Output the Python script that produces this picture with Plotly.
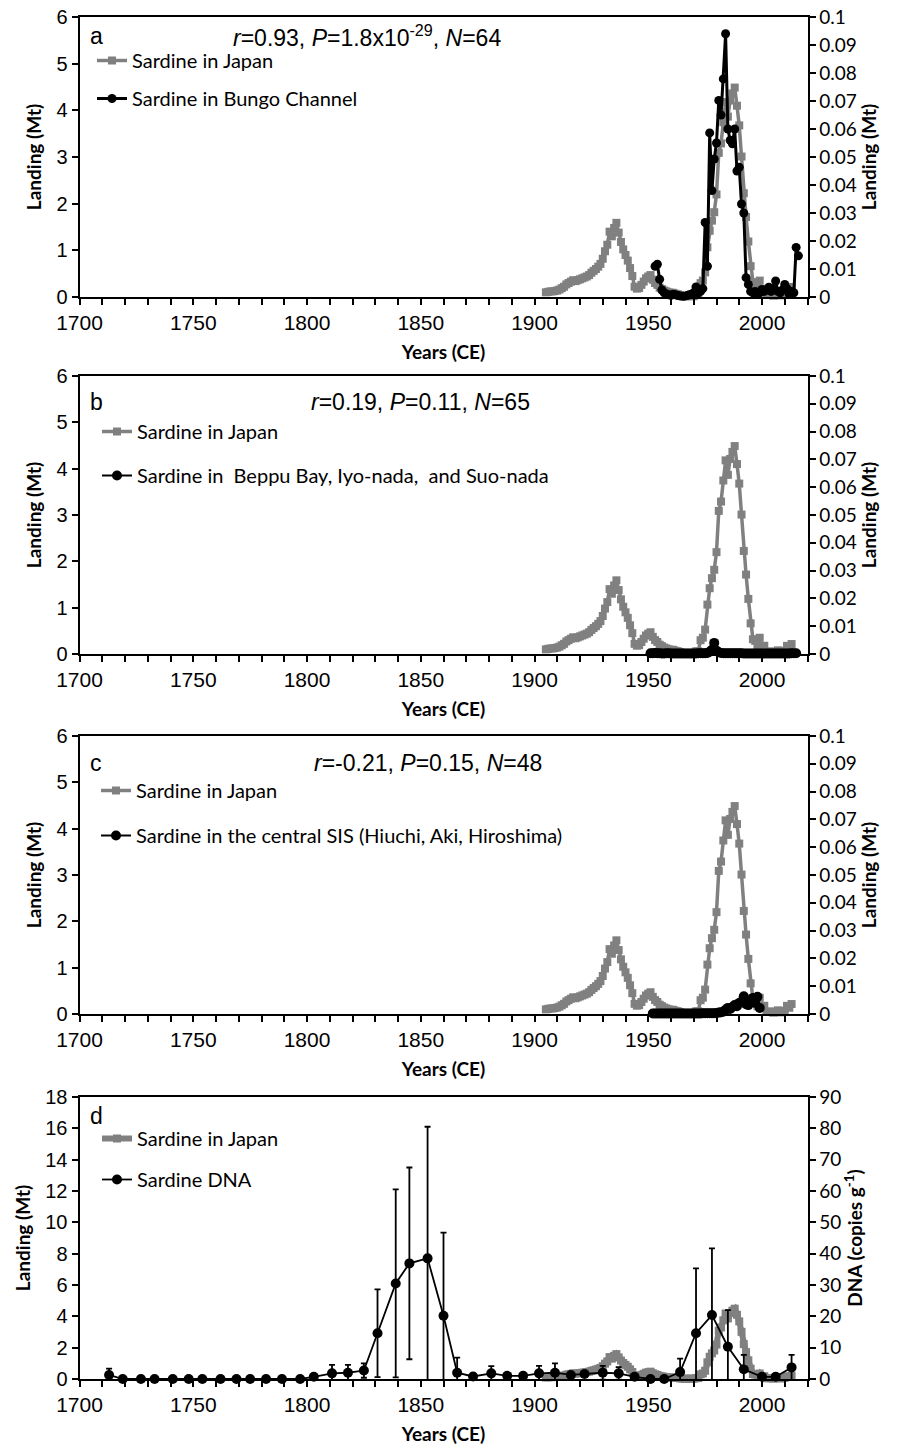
import plotly.graph_objects as go

# ---------------- data ----------------
# Sardine landings in Japan (Mt), 1905-2013
japan_years = list(range(1905, 2014))
japan_landing = [
    0.10, 0.11, 0.12, 0.12, 0.13, 0.14, 0.16, 0.19, 0.22, 0.27,   # 1905-1914
    0.30, 0.33, 0.36, 0.34, 0.36, 0.38, 0.40, 0.42, 0.44, 0.47,   # 1915-1924
    0.52, 0.56, 0.60, 0.65, 0.71, 0.82, 0.98, 1.12, 1.40, 1.30,   # 1925-1934
    1.48, 1.59, 1.38, 1.18, 1.02, 0.90, 0.78, 0.62, 0.45, 0.22,   # 1935-1944
    0.18, 0.19, 0.26, 0.33, 0.40, 0.44, 0.47, 0.37, 0.30, 0.26,   # 1945-1954
    0.20, 0.17, 0.14, 0.12, 0.10, 0.09, 0.09, 0.07, 0.06, 0.04,   # 1955-1964
    0.02, 0.015, 0.017, 0.023, 0.017, 0.017, 0.057, 0.058, 0.297, 0.352,  # 1965-1974
    0.526, 1.066, 1.420, 1.637, 1.817, 2.198, 3.089, 3.290, 3.745, 4.179,  # 1975-1984
    3.866, 4.210, 4.362, 4.488, 4.099, 3.678, 3.010, 2.224, 1.714, 1.189,  # 1985-1994
    0.661, 0.319, 0.284, 0.167, 0.351, 0.150, 0.178, 0.050, 0.052, 0.050,  # 1995-2004
    0.028, 0.053, 0.079, 0.035, 0.057, 0.070, 0.176, 0.135, 0.215,         # 2005-2013
]

# Bungo Channel (Mt), 1953-2016
bungo_years = list(range(1953, 2017))
bungo_landing = [
    0.0110, 0.0117, 0.0063, 0.0025, 0.0015, 0.0010, 0.0008, 0.0006, 0.0010, 0.0008,  # 1953-1962
    0.0005, 0.0004, 0.0003, 0.0003, 0.0005, 0.0008, 0.0010, 0.0015, 0.0036, 0.0015,  # 1963-1972
    0.0020, 0.0030, 0.0266, 0.0110, 0.0586, 0.0380, 0.0493, 0.0550, 0.0702, 0.0650,  # 1973-1982
    0.0779, 0.0940, 0.0600, 0.0560, 0.0547, 0.0600, 0.0450, 0.0463, 0.0332, 0.0300,  # 1983-1992
    0.0069, 0.0045, 0.0020, 0.0015, 0.0020, 0.0010, 0.0015, 0.0027, 0.0020, 0.0025,  # 1993-2002
    0.0035, 0.0020, 0.0030, 0.0057, 0.0020, 0.0015, 0.0025, 0.0045, 0.0030, 0.0010,  # 2003-2012
    0.0020, 0.0015, 0.0177, 0.0147,                                                  # 2013-2016
]

# Beppu Bay, Iyo-nada and Suo-nada (Mt), 1951-2015
beppu_years = list(range(1951, 2016))
beppu_landing = [
    0.0003, 0.0003, 0.0004, 0.0003, 0.0003, 0.0002, 0.0002, 0.0003, 0.0003, 0.0002,  # 1951-1960
    0.0002, 0.0002, 0.0002, 0.0002, 0.0002, 0.0002, 0.0002, 0.0002, 0.0002, 0.0002,  # 1961-1970
    0.0002, 0.0003, 0.0003, 0.0003, 0.0003, 0.0004, 0.0008, 0.0015, 0.0040, 0.0012,  # 1971-1980
    0.0006, 0.0004, 0.0003, 0.0003, 0.0003, 0.0003, 0.0003, 0.0003, 0.0003, 0.0003,  # 1981-1990
    0.0003, 0.0002, 0.0002, 0.0002, 0.0002, 0.0002, 0.0002, 0.0002, 0.0002, 0.0002,  # 1991-2000
    0.0002, 0.0002, 0.0002, 0.0002, 0.0002, 0.0002, 0.0002, 0.0002, 0.0002, 0.0002,  # 2001-2010
    0.0002, 0.0002, 0.0003, 0.0003, 0.0003,                                          # 2011-2015
]

# Central Seto Inland Sea (Hiuchi, Aki, Hiroshima) (Mt), 1952-1999
central_years = list(range(1952, 2000))
central_landing = [
    0.0002, 0.0002, 0.0002, 0.0002, 0.0002, 0.0002, 0.0002, 0.0002,                  # 1952-1959
    0.0002, 0.0002, 0.0002, 0.0002, 0.0002, 0.0002, 0.0002, 0.0002, 0.0002, 0.0002,  # 1960-1969
    0.0002, 0.0002, 0.0002, 0.0002, 0.0003, 0.0003, 0.0003, 0.0003, 0.0003, 0.0003,  # 1970-1979
    0.0004, 0.0005, 0.0006, 0.0008, 0.0015, 0.0022, 0.0018, 0.0025, 0.0032, 0.0028,  # 1980-1989
    0.0040, 0.0045, 0.0064, 0.0035, 0.0032, 0.0044, 0.0058, 0.0040, 0.0062, 0.0022,  # 1990-1999
]

# Sardine DNA in sediment (copies g-1) with standard deviation
dna_years = [1713, 1719, 1727, 1733, 1741, 1748, 1754, 1762, 1769, 1775, 1782,
             1789, 1797, 1803, 1811, 1818, 1825, 1831, 1839, 1845, 1853, 1860,
             1866, 1873, 1881, 1888, 1895, 1902, 1909, 1916, 1922, 1930, 1937,
             1944, 1951, 1957, 1964, 1971, 1978, 1985, 1992, 2000, 2006, 2013]
dna_copies = [1.3, 0, 0, 0, 0, 0, 0, 0, 0, 0, 0,
              0, 0, 0.7, 1.8, 2.0, 2.7, 14.6, 30.5, 36.9, 38.5, 20.2,
              2.0, 0.8, 1.8, 1.0, 1.0, 1.8, 2.0, 1.3, 1.6, 2.0, 1.8,
              0.7, 0, 0, 2.2, 14.6, 20.4, 10.3, 3.1, 0.7, 0.7, 3.7]
dna_sd = [2.0, 0, 0, 0, 0, 0, 0, 0, 0, 0, 0,
          0, 0, 0, 2.7, 2.5, 2.3, 14.0, 30.0, 30.6, 42.0, 26.5,
          4.8, 0, 2.3, 0, 0, 2.4, 3.0, 0, 0, 2.2, 2.0,
          0, 0, 0, 4.3, 20.7, 21.3, 11.7, 4.6, 0, 0, 4.0]

# tick labels
year_ticks = [1700, 1750, 1800, 1850, 1900, 1950, 2000]
year_labels = ["1700", "1750", "1800", "1850", "1900", "1950", "2000"]
small_ticks = [0, 0.01, 0.02, 0.03, 0.04, 0.05, 0.06, 0.07, 0.08, 0.09, 0.1]
small_labels = ["0", "0.01", "0.02", "0.03", "0.04", "0.05", "0.06", "0.07", "0.08", "0.09", "0.1"]

panel_letters = ["a", "b", "c", "d"]
panel_stats = [
    "<i>r</i>=0.93, <i>P</i>=1.8x10<sup>-29</sup>, <i>N</i>=64",
    "<i>r</i>=0.19, <i>P</i>=0.11, <i>N</i>=65",
    "<i>r</i>=-0.21, <i>P</i>=0.15, <i>N</i>=48",
]
japan_name = "Sardine in Japan"
local_names = [
    "Sardine in Bungo Channel",
    "Sardine in  Beppu Bay, Iyo-nada,  and Suo-nada",
    "Sardine in the central SIS (Hiuchi, Aki, Hiroshima)",
]

# ---------------- layout helpers ----------------
W, H = 898, 1446
ARIAL = "Liberation Sans, Arial, sans-serif"
CAL = "Lato, Carlito, Calibri, sans-serif"
GRAY = "#808080"


def fx(px):
    return px / W


def fy(py):
    return 1 - py / H


X_LEFT, X_RIGHT = 79.5, 807.5
panels_px = [(17, 297), (376, 654), (736, 1014), (1097, 1379)]   # (top, bottom)

# per-panel placement of the letter / statistics / legend (pixels from panel top)
letter_dy = [19, 26, 27, 19]
stats_x = [233, 311, 314]
legend_x = [92, 97, 96, 97]
legend_dy = [24, 36, 35, 22]
legend_gap = [9, 15, 16, 12]

fig = go.Figure()

layout = dict(
    width=W, height=H,
    margin=dict(l=0, r=0, t=0, b=0, autoexpand=False),
    paper_bgcolor="white", plot_bgcolor="white",
    showlegend=True,
    font=dict(family=ARIAL, color="black"),
)

annotations = []

for i, (top, bottom) in enumerate(panels_px):
    n = i + 1
    xs = "" if n == 1 else str(n)
    xa = "x" + xs
    ya_l = "y" + ("" if n == 1 else str(2 * n - 1))
    ya_r = "y" + str(2 * n)
    leg = "legend" + ("" if n == 1 else str(n))

    layout["xaxis" + xs] = dict(
        domain=[fx(X_LEFT), fx(X_RIGHT)], anchor=ya_l, automargin=False,
        range=[1700, 2020], tickvals=year_ticks, ticktext=year_labels,
        ticks="outside", ticklen=6, tickwidth=2, tickcolor="black",
        minor=dict(dtick=10, tick0=1700, ticks="outside", ticklen=6,
                   tickwidth=2, tickcolor="black"),
        showline=True, linecolor="black", linewidth=2, mirror=True,
        showgrid=False, zeroline=False,
        tickfont=dict(family=ARIAL, size=21, color="black"),
        title=dict(text="Years (CE)", standoff=12,
                   font=dict(family=CAL, size=19, color="black", weight="bold")),
    )

    if n < 4:
        left_range, left_dtick = [0, 6], 1
        right_cfg = dict(range=[0, 0.1], tickvals=small_ticks, ticktext=small_labels)
        right_title = "Landing (Mt)"
    else:
        left_range, left_dtick = [0, 18], 2
        right_cfg = dict(range=[0, 90], dtick=10, tick0=0)
        right_title = "DNA (copies g<sup>-1</sup>)"

    layout["yaxis" + ("" if n == 1 else str(2 * n - 1))] = dict(
        domain=[fy(bottom), fy(top)], anchor=xa, automargin=False,
        range=left_range, dtick=left_dtick, tick0=0,
        ticks="outside", ticklen=6, tickwidth=2, tickcolor="black",
        showline=True, linecolor="black", linewidth=2,
        showgrid=False, zeroline=False,
        tickfont=dict(family=ARIAL, size=20, color="black"),
        title=dict(text="Landing (Mt)", standoff=10,
                   font=dict(family=CAL, size=19, color="black", weight="bold")),
    )
    layout["yaxis" + str(2 * n)] = dict(
        anchor=xa, overlaying=ya_l, side="right", automargin=False,
        ticks="outside", ticklen=6, tickwidth=2, tickcolor="black",
        showline=True, linecolor="black", linewidth=2,
        showgrid=False, zeroline=False,
        tickfont=dict(family=CAL, size=19, color="black"),
        title=dict(text=right_title, standoff=4,
                   font=dict(family=CAL, size=19, color="black", weight="bold")),
        **right_cfg,
    )

    # legend for this panel
    layout[leg] = dict(
        x=fx(legend_x[i]), y=fy(top + legend_dy[i]), xanchor="left", yanchor="top",
        bgcolor="rgba(0,0,0,0)", borderwidth=0,
        font=dict(family=CAL, size=20, color="black"),
        tracegroupgap=legend_gap[i], itemwidth=30,
    )

    # panel letter
    annotations.append(dict(
        text=panel_letters[i], x=fx(88), y=fy(top + letter_dy[i]), xref="paper", yref="paper",
        xanchor="left", yanchor="middle", showarrow=False,
        font=dict(family=ARIAL, size=23, color="black"),
    ))
    if n < 4:
        annotations.append(dict(
            text=panel_stats[i], x=fx(stats_x[i] - 2), y=fy(top + letter_dy[i]),
            xref="paper", yref="paper",
            xanchor="left", yanchor="middle", showarrow=False,
            font=dict(family=ARIAL, size=23, color="black"),
        ))

    # Sardine in Japan (left axis)
    japan_line_w = 3.5 if n < 4 else 6
    fig.add_trace(go.Scatter(
        x=japan_years, y=japan_landing, name=japan_name, mode="lines+markers",
        line=dict(color=GRAY, width=japan_line_w),
        marker=dict(symbol="square", size=8, color=GRAY),
        xaxis=xa, yaxis=ya_l, legend=leg, legendgroup=f"jp{n}",
        cliponaxis=False,
    ))

    if n == 1:
        fig.add_trace(go.Scatter(
            x=bungo_years, y=bungo_landing, name=local_names[0], mode="lines+markers",
            line=dict(color="black", width=3),
            marker=dict(symbol="circle", size=9, color="black"),
            xaxis=xa, yaxis=ya_r, legend=leg, legendgroup="loc1", cliponaxis=False,
        ))
    elif n == 2:
        fig.add_trace(go.Scatter(
            x=beppu_years, y=beppu_landing, name=local_names[1], mode="lines+markers",
            line=dict(color="black", width=2),
            marker=dict(symbol="circle", size=10, color="black"),
            xaxis=xa, yaxis=ya_r, legend=leg, legendgroup="loc2", cliponaxis=False,
        ))
    elif n == 3:
        fig.add_trace(go.Scatter(
            x=central_years, y=central_landing, name=local_names[2], mode="lines+markers",
            line=dict(color="black", width=2),
            marker=dict(symbol="circle", size=10, color="black"),
            xaxis=xa, yaxis=ya_r, legend=leg, legendgroup="loc3", cliponaxis=False,
        ))
    else:
        # error bars (clipped at the plot area)
        fig.add_trace(go.Scatter(
            x=dna_years, y=dna_copies, mode="markers",
            marker=dict(size=1, color="rgba(0,0,0,0)"),
            error_y=dict(type="data", array=dna_sd, visible=True,
                         color="black", thickness=1.8, width=3),
            xaxis=xa, yaxis=ya_r, showlegend=False, hoverinfo="skip",
            cliponaxis=True,
        ))
        fig.add_trace(go.Scatter(
            x=dna_years, y=dna_copies, name="Sardine DNA", mode="lines+markers",
            line=dict(color="black", width=1.8),
            marker=dict(symbol="circle", size=10, color="black"),
            xaxis=xa, yaxis=ya_r, legend=leg, legendgroup="dna", cliponaxis=False,
        ))

layout["annotations"] = annotations
fig.update_layout(**layout)
fig.write_html("out.html")
